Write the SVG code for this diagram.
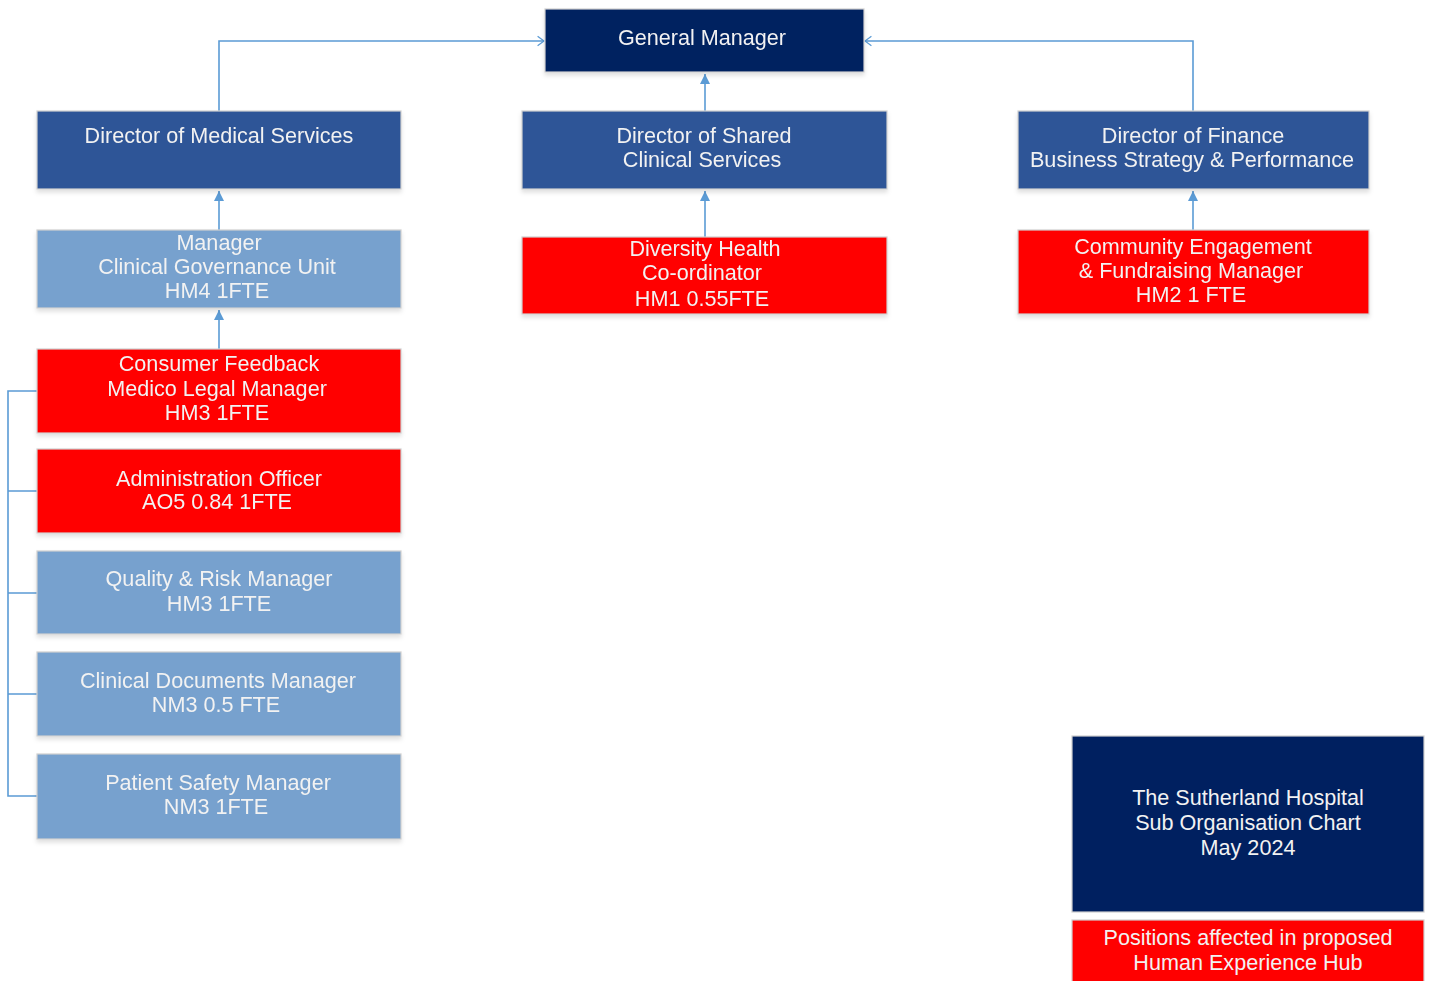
<svg xmlns="http://www.w3.org/2000/svg" width="1432" height="981" viewBox="0 0 1432 981">
<style>
.box{stroke:#D0D0D0;stroke-width:1.2}
.navy{fill:#002060}
.dir{fill:#2F5597}
.lb{fill:#77A1CE}
.red{fill:#FF0000}
text{font-family:"Liberation Sans",Arial,sans-serif;font-size:21.6px;fill:#F2F2F2;text-anchor:middle}
.conn{fill:none;stroke:#5B9BD5;stroke-width:1.6}
</style>
<defs>
<marker id="tri" viewBox="0 0 10 10" refX="10" refY="5" markerWidth="10" markerHeight="10" markerUnits="userSpaceOnUse" orient="auto">
<path d="M0,0 L10,5 L0,10 z" fill="#5B9BD5"/>
</marker>
<marker id="chev" viewBox="0 0 10 14" refX="9" refY="7" markerWidth="8" markerHeight="12" markerUnits="userSpaceOnUse" orient="auto">
<path d="M1,1 L9,7 L1,13" fill="none" stroke="#5B9BD5" stroke-width="1.6"/>
</marker>
<filter id="sh" x="-5%" y="-10%" width="110%" height="130%">
<feDropShadow dx="0" dy="3" stdDeviation="2" flood-color="#000" flood-opacity="0.12"/>
</filter>
</defs>

<g id="connectors">
<path class="conn" d="M219,111 V41 H544" marker-end="url(#chev)"/>
<path class="conn" d="M1193,111 V41 H865" marker-end="url(#chev)"/>
<path class="conn" d="M705,111 V74" marker-end="url(#tri)"/>
<path class="conn" d="M705,237 V191" marker-end="url(#tri)"/>
<path class="conn" d="M1193,230 V191" marker-end="url(#tri)"/>
<path class="conn" d="M219,230 V191" marker-end="url(#tri)"/>
<path class="conn" d="M219,349 V310" marker-end="url(#tri)"/>
<path class="conn" d="M37,391 H8 V796 H37 M8,491 H37 M8,593 H37 M8,694 H37"/>
</g>

<g id="general-manager" filter="url(#sh)">
<rect class="box navy" x="545" y="9" width="319" height="63"/>
<text x="702" y="45">General Manager</text>
</g>

<g id="dir-medical" filter="url(#sh)">
<rect class="box dir" x="37" y="111" width="364" height="78"/>
<text x="219" y="143">Director of Medical Services</text>
</g>

<g id="dir-shared" filter="url(#sh)">
<rect class="box dir" x="522" y="111" width="365" height="78"/>
<text x="704" y="143">Director of Shared</text>
<text x="702" y="167">Clinical Services</text>
</g>

<g id="dir-finance" filter="url(#sh)">
<rect class="box dir" x="1018" y="111" width="351" height="78"/>
<text x="1193" y="143">Director of Finance</text>
<text x="1192" y="167">Business Strategy &amp; Performance</text>
</g>

<g id="manager-cgu" filter="url(#sh)">
<rect class="box lb" x="37" y="230" width="364" height="78"/>
<text x="219" y="250">Manager</text>
<text x="217" y="274">Clinical Governance Unit</text>
<text x="217" y="298">HM4 1FTE</text>
</g>

<g id="diversity-health" filter="url(#sh)">
<rect class="box red" x="522" y="237" width="365" height="77"/>
<text x="705" y="256">Diversity Health</text>
<text x="702" y="280">Co-ordinator</text>
<text x="702" y="306">HM1 0.55FTE</text>
</g>

<g id="community-engagement" filter="url(#sh)">
<rect class="box red" x="1018" y="230" width="351" height="84"/>
<text x="1193" y="254">Community Engagement</text>
<text x="1191" y="278">&amp; Fundraising Manager</text>
<text x="1191" y="302">HM2 1 FTE</text>
</g>

<g id="consumer-feedback" filter="url(#sh)">
<rect class="box red" x="37" y="349" width="364" height="84"/>
<text x="219" y="371">Consumer Feedback</text>
<text x="217" y="396">Medico Legal Manager</text>
<text x="217" y="420">HM3 1FTE</text>
</g>

<g id="admin-officer" filter="url(#sh)">
<rect class="box red" x="37" y="449" width="364" height="84"/>
<text x="219" y="486">Administration Officer</text>
<text x="217" y="509">AO5 0.84 1FTE</text>
</g>

<g id="quality-risk" filter="url(#sh)">
<rect class="box lb" x="37" y="551" width="364" height="83"/>
<text x="219" y="586">Quality &amp; Risk Manager</text>
<text x="219" y="611">HM3 1FTE</text>
</g>

<g id="clinical-documents" filter="url(#sh)">
<rect class="box lb" x="37" y="652" width="364" height="84"/>
<text x="218" y="688">Clinical Documents Manager</text>
<text x="216" y="712">NM3 0.5 FTE</text>
</g>

<g id="patient-safety" filter="url(#sh)">
<rect class="box lb" x="37" y="754" width="364" height="85"/>
<text x="218" y="790">Patient Safety Manager</text>
<text x="216" y="814">NM3 1FTE</text>
</g>

<g id="title-box">
<rect class="box navy" x="1072" y="736" width="352" height="176"/>
<text x="1248" y="805">The Sutherland Hospital</text>
<text x="1248" y="830">Sub Organisation Chart</text>
<text x="1248" y="855">May 2024</text>
</g>

<g id="legend">
<rect class="box red" x="1072" y="920" width="352" height="70"/>
<text x="1248" y="945">Positions affected in proposed</text>
<text x="1248" y="970">Human Experience Hub</text>
</g>
</svg>
